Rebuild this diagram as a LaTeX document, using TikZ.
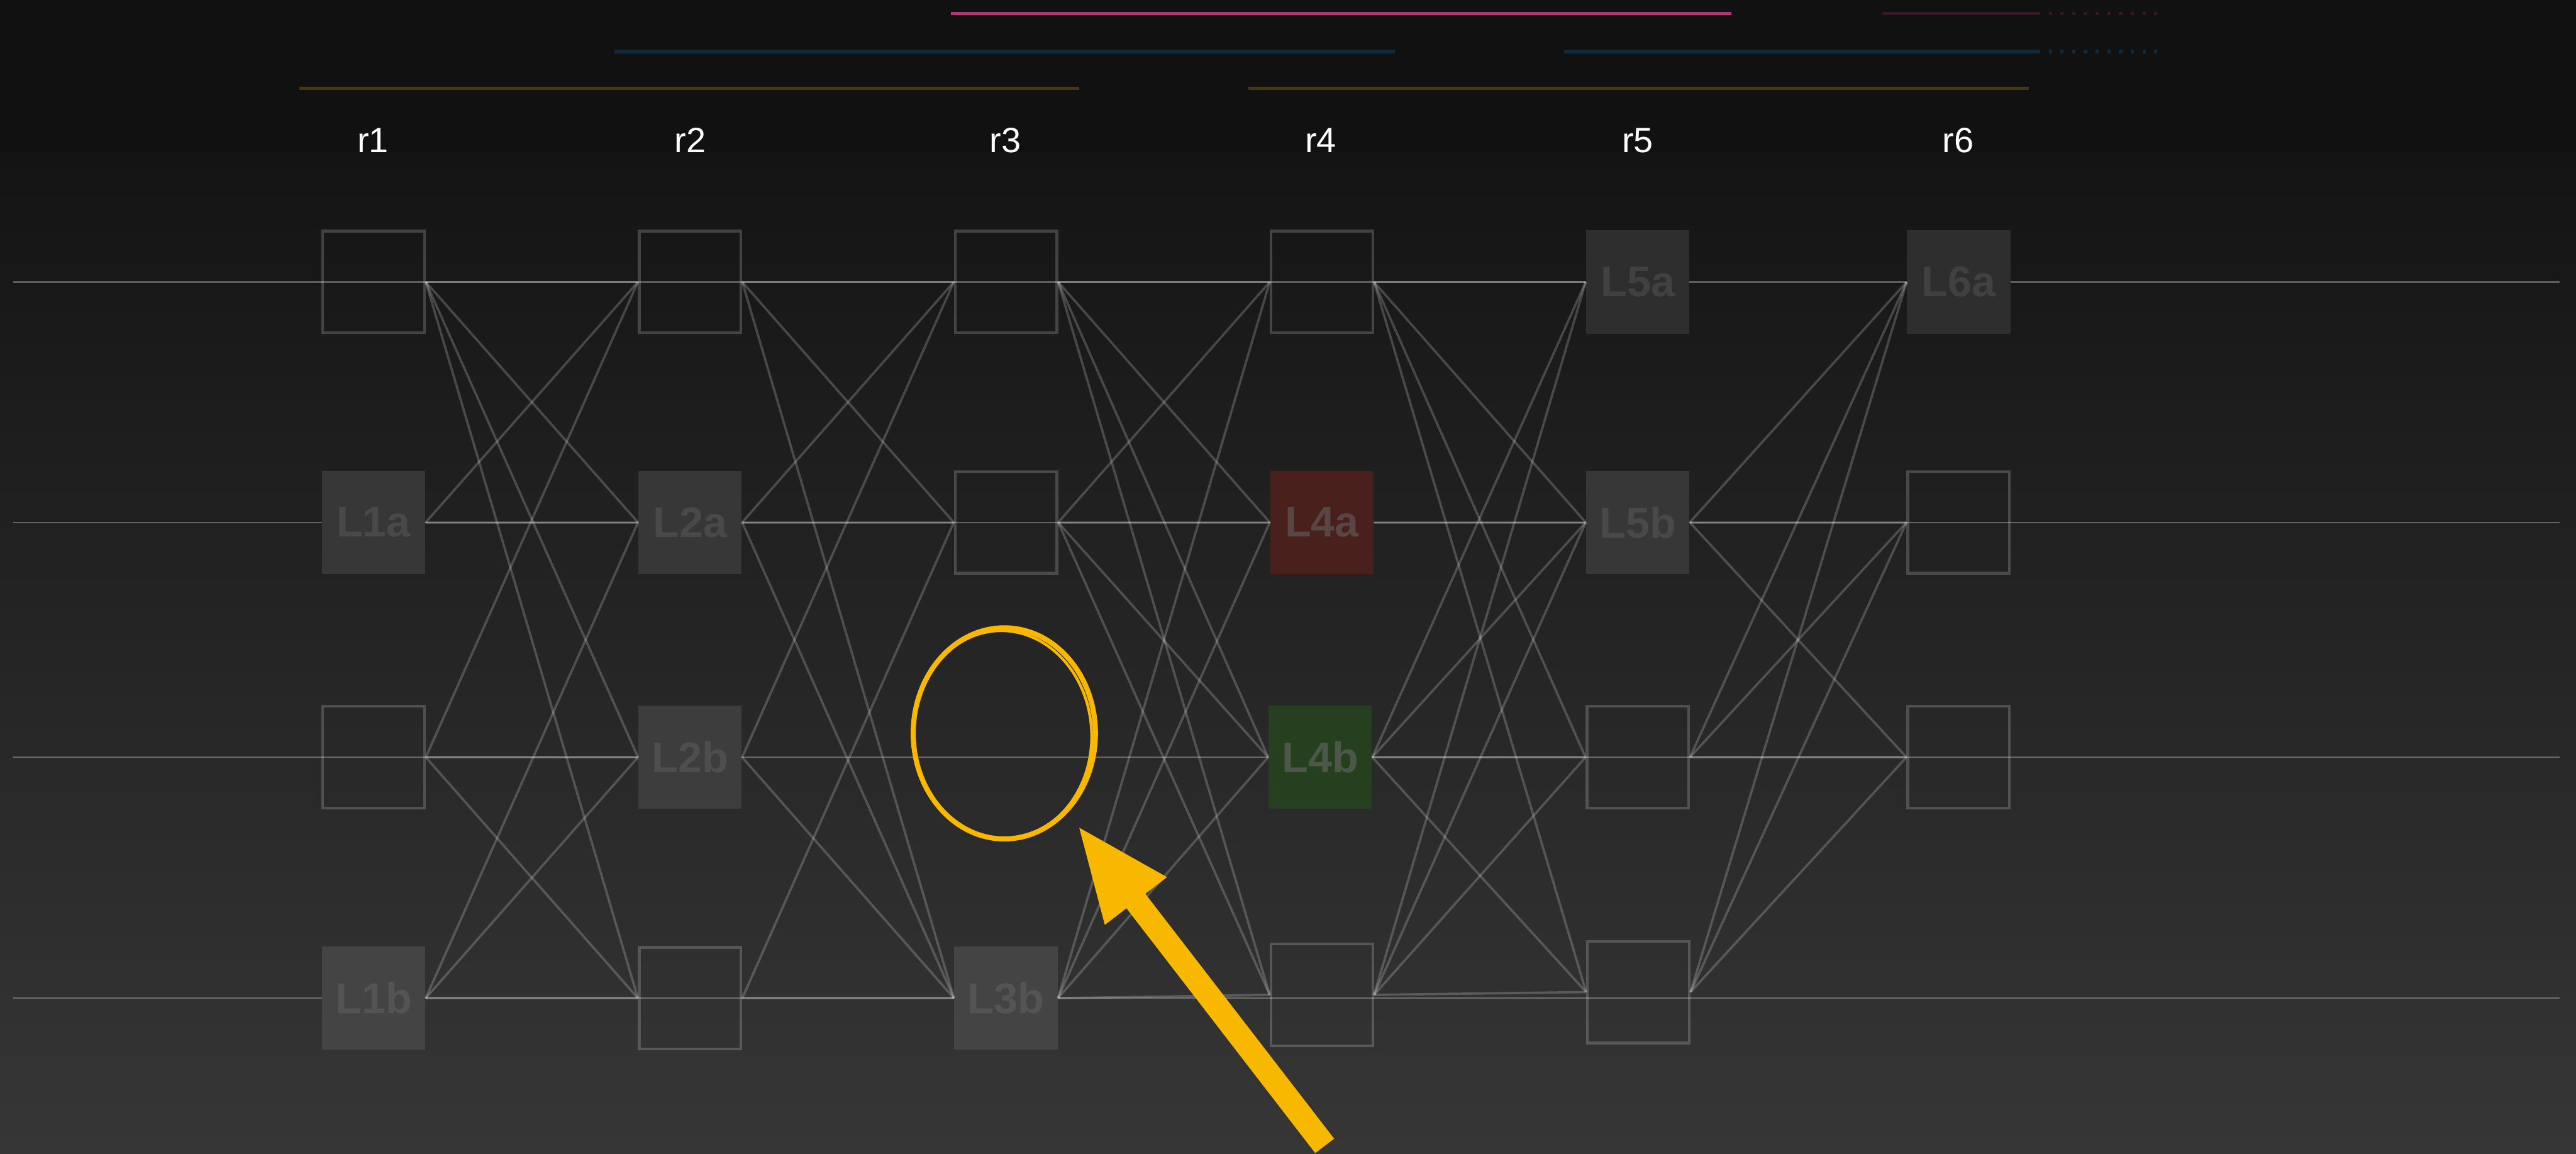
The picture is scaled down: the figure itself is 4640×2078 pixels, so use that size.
\documentclass[tikz,border=0pt]{standalone}
\usepackage{fontspec}
\newfontfamily\labfont{Liberation Sans}
\definecolor{bgtop}{HTML}{111111}
\definecolor{bgmid}{HTML}{141414}
\definecolor{bgbot}{HTML}{363636}
\definecolor{pinkc}{HTML}{CB2A7B}
\definecolor{pinkdim}{HTML}{3A1628}
\definecolor{bluec}{HTML}{0F2B3F}
\definecolor{olivec}{HTML}{44361A}
\definecolor{amber}{HTML}{F9B800}
\definecolor{fA}{HTML}{2E2E2E}\definecolor{tA}{HTML}{414141}
\definecolor{fB}{HTML}{373737}\definecolor{tB}{HTML}{494949}
\definecolor{fC}{HTML}{3D3D3D}\definecolor{tC}{HTML}{4E4E4E}
\definecolor{fD}{HTML}{444444}\definecolor{tD}{HTML}{545454}
\definecolor{fRed}{HTML}{4A201D}\definecolor{tRed}{HTML}{574644}
\definecolor{fGreen}{HTML}{26401F}\definecolor{tGreen}{HTML}{4C574A}
\begin{document}
\begin{tikzpicture}[x=0.01cm,y=-0.01cm,
  rowline/.style={draw=white, draw opacity=0.3, line width=0.7pt},
  edge/.style={draw=white, draw opacity=0.2, line width=1.2pt},
  obox/.style={draw=white, draw opacity=0.19, line width=1.4pt, minimum width=1.83cm, minimum height=1.83cm, inner sep=0pt},
  fbox/.style={minimum width=1.86cm, minimum height=1.86cm, inner sep=0pt, font=\labfont\bfseries\fontsize{22}{24}\selectfont},
  rlab/.style={anchor=base, text=white, font=\labfont\fontsize{18}{20}\selectfont},
  topline/.style={line width=1.7pt},
  ticks/.style={line width=1.7pt, dash pattern=on 1.7pt off 4.3pt}
]
\useasboundingbox (0,0) rectangle (4640,2078);
% background
\fill[bgtop] (0,0) rectangle (4640,275);
\shade[top color=bgmid, bottom color=bgbot] (0,275) rectangle (4640,2078);
% top bars
\draw[topline, pinkc] (1713,24) -- (3119,24);
\draw[topline, pinkdim] (3391,24) -- (3669,24);
\draw[ticks, pinkdim] (3669,24) -- (3888,24);
\draw[topline, bluec] (1107,93) -- (2512,93);
\draw[topline, bluec] (2817,93) -- (3669,93);
\draw[ticks, bluec] (3669,93) -- (3888,93);
\draw[topline, olivec] (539,159) -- (1944,159);
\draw[topline, olivec] (2249,159) -- (3654,159);
% column labels
\node[rlab] (r1) at (672,275) {r1};
\node[rlab] (r2) at (1243,275) {r2};
\node[rlab] (r3) at (1811,275) {r3};
\node[rlab] (r4) at (2379,275) {r4};
\node[rlab] (r5) at (2950,275) {r5};
\node[rlab] (r6) at (3527,275) {r6};
% row lines
\foreach \yy in {508,941,1364,1798} \draw[rowline] (24,\yy) -- (4610,\yy);
% nodes
\node[obox] (n1A) at (673,508) {};
\node[fbox, fill=fB, text=tB] (n1B) at (673,941) {L1a};
\node[obox] (n1C) at (673,1364) {};
\node[fbox, fill=fD, text=tD] (n1D) at (673,1798) {L1b};
\node[obox] (n2A) at (1243,508) {};
\node[fbox, fill=fB, text=tB] (n2B) at (1243,941) {L2a};
\node[fbox, fill=fC, text=tC] (n2C) at (1243,1364) {L2b};
\node[obox] (n2D) at (1243,1798) {};
\node[obox] (n3A) at (1812,508) {};
\node[obox] (n3B) at (1812,941) {};
\node[fbox, fill=fD, text=tD] (n3D) at (1812,1798) {L3b};
\node[obox] (n4A) at (2381,508) {};
\node[fbox, fill=fRed, text=tRed] (n4B) at (2381,941) {L4a};
\node[fbox, fill=fGreen, text=tGreen] (n4C) at (2378,1364) {L4b};
\node[obox] (n4D) at (2381,1792) {};
\node[fbox, fill=fA, text=tA] (n5A) at (2950,508) {L5a};
\node[fbox, fill=fB, text=tB] (n5B) at (2950,941) {L5b};
\node[obox] (n5C) at (2950,1364) {};
\node[obox] (n5D) at (2951,1787) {};
\node[fbox, fill=fA, text=tA] (n6A) at (3528,508) {L6a};
\node[obox] (n6B) at (3528,941) {};
\node[obox] (n6C) at (3528,1364) {};
% edges
\foreach \a/\b in {1A/2A,1A/2B,1A/2C,1A/2D,1B/2A,1B/2B,1C/2A,1C/2C,1C/2D,1D/2B,1D/2C,1D/2D,
  2A/3A,2A/3B,2A/3D,2B/3A,2B/3B,2B/3D,2C/3A,2C/3D,2D/3B,2D/3D,
  3A/4A,3A/4B,3A/4C,3A/4D,3B/4A,3B/4B,3B/4C,3B/4D,3D/4A,3D/4B,3D/4C,3D/4D,
  4A/5A,4A/5B,4A/5C,4A/5D,4B/5B,4C/5A,4C/5B,4C/5C,4C/5D,4D/5A,4D/5B,4D/5C,4D/5D,
  5B/6A,5B/6B,5B/6C,5C/6A,5C/6B,5C/6C,5D/6A,5D/6B,5D/6C}
  \draw[edge] (n\a.east) -- (n\b.west);
% highlight circle (brush-like)
\coordinate (hc) at (1809,1321);
\draw[amber, line width=2.6pt] (hc) ellipse [x radius=1.64cm, y radius=1.90cm];
\draw[amber, line width=1.4pt, rotate around={3:(hc)}] (1806,1323) ellipse [x radius=1.60cm, y radius=1.87cm];
% arrow
\fill[amber] (1944,1491) -- (2102,1580) -- (2063,1610) -- (2403,2051) -- (2369,2077) -- (2029,1636) -- (1990,1666) -- cycle;
\end{tikzpicture}
\end{document}
